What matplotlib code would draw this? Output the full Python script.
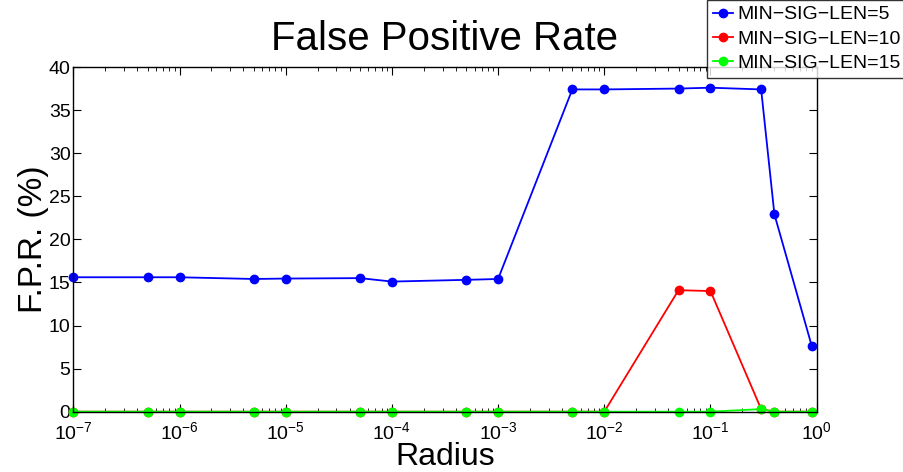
import matplotlib
matplotlib.use("Agg")
import matplotlib.pyplot as plt
from matplotlib.ticker import LogLocator, NullFormatter

plt.rcParams['font.family'] = ['Liberation Sans', 'DejaVu Sans']
plt.rcParams['mathtext.fontset'] = 'custom'
plt.rcParams['mathtext.rm'] = 'Liberation Sans'

# promien (os x) i FPR w procentach dla kazdej wartosci MIN-SIG-LEN
radius = [1e-7, 5e-7, 1e-6, 5e-6, 1e-5, 5e-5, 1e-4, 5e-4, 1e-3,
          5e-3, 1e-2, 5e-2, 1e-1, 0.3, 0.4, 0.9]
fpr_5 = [15.6, 15.6, 15.6, 15.4, 15.45, 15.5, 15.1, 15.3, 15.4,
         37.4, 37.4, 37.5, 37.6, 37.4, 22.9, 7.6]
fpr_10 = [0, 0, 0, 0, 0, 0, 0, 0, 0,
          0, 0, 14.1, 14.0, 0.3, 0, 0]
fpr_15 = [0, 0, 0, 0, 0, 0, 0, 0, 0,
          0, 0, 0, 0, 0.3, 0, 0]
labels = ["MIN\u2212SIG\u2212LEN=5", "MIN\u2212SIG\u2212LEN=10", "MIN\u2212SIG\u2212LEN=15"]

fig = plt.figure(figsize=(9.04, 4.72), dpi=100)
ax = fig.add_axes([0.0811, 0.1278, 0.8223, 0.7302])

for y, c, lab in zip([fpr_5, fpr_10, fpr_15], ['#0000ff', '#ff0000', '#00ff00'], labels):
    ax.plot(radius, y, color=c, marker='o', markersize=6, linewidth=1.3, label=lab, clip_on=False)

ax.set_xscale('log')
ax.set_xlim(1e-7, 1)
ax.set_ylim(0, 40)
ax.set_yticks(range(0, 41, 5))
ax.xaxis.set_major_locator(LogLocator(base=10, numticks=10))
ax.xaxis.set_minor_locator(LogLocator(base=10, subs=range(2, 10), numticks=20))
ax.xaxis.set_minor_formatter(NullFormatter())
ax.tick_params(which='both', direction='in', top=True, right=True, labelsize=14)
ax.tick_params(which='major', length=6)
ax.tick_params(which='minor', length=3)
ax.tick_params(axis='x', pad=7)
ax.tick_params(axis='y', pad=2)
for s in ax.spines.values():
    s.set_linewidth(1.0)

ax.set_title("False Positive Rate", fontsize=29, pad=12)
ax.set_xlabel("Radius", fontsize=23, labelpad=-1)
ax.set_ylabel("F.P.R. (%)", fontsize=24, labelpad=0)

leg = ax.legend(loc='upper left', bbox_to_anchor=(0.782, 1.0), bbox_transform=fig.transFigure,
                fontsize=14, frameon=True, fancybox=False, edgecolor='black',
                handlelength=1.05, handletextpad=0.2, borderpad=0.3, labelspacing=0.35,
                borderaxespad=0)
leg.get_frame().set_linewidth(1.0)

fig.savefig("out.png", dpi=100)
